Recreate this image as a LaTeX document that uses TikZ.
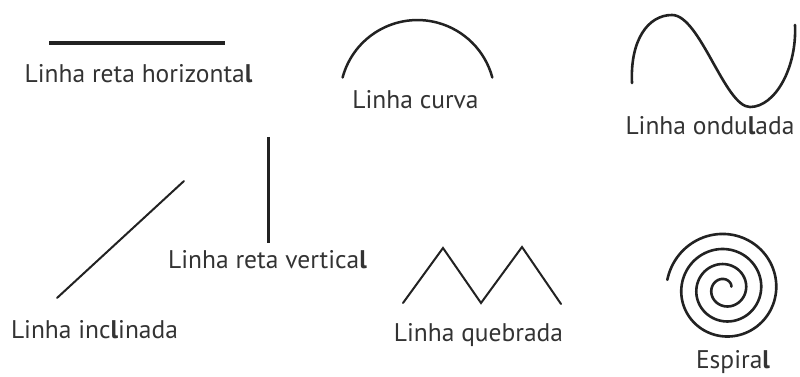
\documentclass[tikz,border=0pt]{standalone}
\usepackage{fontspec}
\setmainfont{PT Sans}
\definecolor{labelgray}{HTML}{333333}
\definecolor{linegray}{HTML}{222222}
\newcommand{\bl}{\textbf{l}}
\begin{document}
\begin{tikzpicture}[x=1pt,y=-1pt,
  lbl/.style={anchor=base, inner sep=0pt, text=labelgray, font=\fontsize{25.5}{30}\selectfont},
  shapeline/.style={draw=linegray, line cap=round, line join=round}]
\useasboundingbox (0,0) rectangle (800,377);

% Linha reta horizontal
\coordinate (h1) at (49,43);
\coordinate (h2) at (225,43);
\draw[shapeline, line width=3.5pt, line cap=butt] (h1) -- (h2);
\node[lbl] (th) at (138.5,83) {Linha reta horizonta\bl};

% Linha curva
\coordinate (c1) at (342.6,77.5);
\draw[shapeline, line width=2.5pt] (c1) arc[start angle=195, end angle=345, radius=77.5];
\node[lbl] (tc) at (415.5,109) {Linha curva};

% Linha ondulada
\coordinate (w1) at (632,83);
\coordinate (w2) at (672,15);
\coordinate (w3) at (750,107);
\coordinate (w4) at (795,25);
\draw[shapeline, line width=2.6pt] (w1) .. controls (630,40) and (648,15) .. (w2)
  .. controls (700,15) and (725,107) .. (w3)
  .. controls (775,107) and (797,68) .. (w4);
\node[lbl] (to) at (710,135) {Linha ondu\bl ada};

% Linha reta vertical
\coordinate (v1) at (268,137);
\coordinate (v2) at (268,243);
\draw[shapeline, line width=3pt, line cap=butt] (v1) -- (v2);
\node[lbl] (tv) at (267.5,268) {Linha reta vertica\bl};

% Linha inclinada
\coordinate (i1) at (57,298);
\coordinate (i2) at (184,181);
\draw[shapeline, line width=2pt] (i1) -- (i2);
\node[lbl] (ti) at (94.5,338) {Linha inc\bl inada};

% Linha quebrada
\coordinate (q1) at (403,303);
\coordinate (q2) at (443,248);
\coordinate (q3) at (481,303);
\coordinate (q4) at (522,247);
\coordinate (q5) at (561,304);
\draw[shapeline, line width=2pt, line join=miter] (q1) -- (q2) -- (q3) -- (q4) -- (q5);
\node[lbl] (tq) at (478.5,341) {Linha quebrada};

% Espiral
\coordinate (sc) at (725,289);
\draw[shapeline, line width=2.6pt] plot[domain=20:1251, samples=360, smooth]
  ({725 + (6+2.4*(\x/57.2958))*cos(-\x)}, {289 + (6+2.4*(\x/57.2958))*sin(-\x)});
\node[lbl] (ts) at (733,368) {Espira\bl};
\end{tikzpicture}
\end{document}
